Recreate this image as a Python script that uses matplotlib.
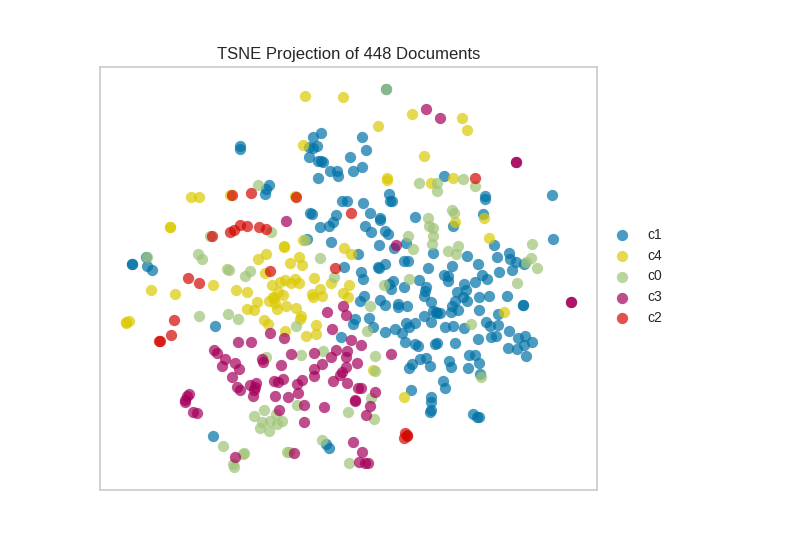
import matplotlib
matplotlib.use("Agg")
import matplotlib.pyplot as plt
import numpy as np

plt.rcParams["font.family"] = ["Liberation Sans", "DejaVu Sans"]

title = "TSNE Projection of 448 Documents"
labels = ["c1", "c4", "c0", "c3", "c2"]
colors = ["#0072A7", "#DBCA04", "#9FC477", "#A5005B", "#D30802"]

# projected positions
c1 = [(240, 146), (240, 149), (313, 137), (321, 133), (309, 147), (317, 146), (313, 148), (309, 157),
      (318, 161), (321, 161), (323, 162), (350, 157), (330, 171), (337, 171), (338, 176), (318, 178),
      (269, 185), (266, 189), (265, 194), (342, 201), (347, 201), (310, 213), (312, 214), (336, 215),
      (333, 222), (329, 226), (320, 227), (307, 239), (331, 242), (146, 257), (132, 264), (132, 264),
      (147, 266), (152, 270), (344, 267), (386, 89), (362, 137), (366, 150), (353, 171), (362, 167),
      (444, 176), (485, 196), (485, 199), (552, 195), (389, 194), (390, 201), (392, 201), (363, 203),
      (370, 213), (380, 218), (380, 220), (415, 217), (483, 214), (453, 226), (365, 226), (371, 232),
      (385, 231), (388, 234), (379, 245), (394, 248), (406, 243), (494, 245), (553, 239), (433, 253),
      (358, 254), (467, 256), (497, 257), (509, 253), (510, 259), (516, 262), (524, 264), (478, 264),
      (404, 261), (408, 261), (385, 264), (378, 267), (379, 268), (361, 272), (428, 268), (452, 266),
      (499, 272), (512, 270), (482, 275), (487, 279), (444, 275), (448, 276), (448, 281), (419, 280),
      (393, 281), (363, 279), (475, 282), (389, 284), (391, 289), (404, 287), (426, 287), (425, 291),
      (424, 296), (464, 284), (457, 292), (466, 290), (463, 297), (467, 301), (479, 297), (489, 296),
      (507, 296), (523, 305), (523, 305), (364, 296), (360, 301), (380, 300), (385, 305), (398, 304),
      (398, 307), (407, 306), (431, 302), (455, 301), (452, 306), (458, 310), (451, 312), (479, 310),
      (498, 314), (369, 318), (355, 319), (353, 324), (373, 327), (433, 311), (436, 312), (437, 313),
      (440, 313), (424, 316), (431, 322), (406, 323), (409, 327), (415, 323), (402, 333), (395, 329),
      (385, 332), (445, 327), (453, 326), (464, 328), (486, 322), (490, 326), (498, 325), (509, 331),
      (491, 337), (496, 336), (478, 339), (518, 338), (525, 336), (532, 342), (524, 345), (508, 348),
      (517, 349), (526, 356), (405, 342), (415, 344), (418, 346), (435, 344), (437, 343), (455, 343),
      (469, 355), (475, 355), (479, 363), (468, 368), (449, 361), (451, 367), (430, 366), (426, 358),
      (420, 359), (412, 364), (409, 368), (480, 374), (443, 381), (445, 388), (411, 390), (431, 397),
      (431, 402), (431, 410), (430, 412), (473, 414), (477, 417), (479, 417), (215, 326), (341, 337),
      (213, 436), (326, 444), (329, 448)]

c4 = [(305, 96), (343, 97), (303, 145), (191, 197), (199, 197), (230, 195), (295, 196), (170, 227),
      (170, 227), (284, 246), (284, 247), (303, 240), (266, 254), (258, 259), (299, 257), (290, 263),
      (302, 265), (344, 248), (265, 273), (412, 114), (462, 118), (467, 130), (378, 126), (424, 156),
      (387, 178), (387, 180), (431, 183), (453, 178), (484, 218), (455, 222), (489, 238), (351, 254),
      (151, 290), (175, 294), (213, 285), (236, 290), (247, 292), (272, 285), (280, 282), (285, 280),
      (291, 283), (295, 279), (299, 283), (314, 278), (331, 283), (312, 294), (313, 297), (320, 289),
      (322, 296), (343, 293), (349, 285), (348, 297), (257, 302), (247, 309), (254, 310), (269, 301),
      (273, 297), (278, 292), (283, 295), (274, 298), (275, 303), (277, 309), (286, 306), (296, 308),
      (301, 316), (300, 319), (264, 320), (268, 324), (285, 331), (316, 325), (316, 334), (306, 336),
      (129, 321), (126, 322), (126, 323), (504, 312), (373, 370), (404, 397)]

c0 = [(386, 89), (258, 185), (210, 236), (271, 232), (198, 254), (202, 259), (147, 257), (227, 269),
      (229, 270), (250, 271), (245, 276), (320, 258), (334, 277), (305, 240), (419, 183), (437, 183),
      (437, 191), (463, 179), (475, 186), (452, 210), (454, 213), (428, 218), (429, 226), (433, 228),
      (433, 236), (432, 244), (408, 236), (413, 249), (448, 251), (458, 246), (456, 254), (532, 244),
      (531, 258), (526, 262), (537, 268), (409, 279), (199, 316), (228, 314), (238, 319), (296, 326),
      (266, 357), (301, 355), (323, 351), (297, 405), (264, 410), (254, 416), (276, 414), (262, 422),
      (270, 421), (282, 421), (277, 424), (260, 428), (269, 431), (322, 440), (223, 446), (244, 453),
      (243, 454), (287, 452), (289, 452), (233, 464), (234, 467), (348, 412), (349, 463), (517, 283),
      (384, 285), (370, 306), (367, 331), (471, 324), (375, 356), (375, 371), (481, 377), (371, 398),
      (374, 419)]

c3 = [(286, 221), (426, 109), (440, 118), (396, 245), (516, 162), (516, 162), (327, 312), (343, 306),
      (346, 315), (332, 329), (270, 333), (284, 338), (238, 342), (251, 342), (351, 340), (214, 350),
      (217, 353), (225, 359), (222, 366), (235, 363), (239, 369), (232, 377), (262, 359), (263, 362),
      (281, 365), (291, 354), (314, 353), (336, 350), (331, 357), (347, 351), (346, 357), (322, 364),
      (314, 369), (314, 376), (346, 367), (342, 372), (340, 375), (333, 381), (347, 383), (237, 387),
      (240, 390), (250, 385), (256, 383), (255, 387), (254, 390), (253, 396), (274, 381), (278, 382),
      (283, 379), (302, 380), (297, 384), (298, 393), (275, 396), (288, 397), (189, 394), (187, 396),
      (185, 400), (185, 402), (193, 412), (197, 413), (304, 405), (279, 410), (304, 422), (324, 407),
      (235, 457), (294, 453), (571, 302), (571, 302), (361, 345), (391, 354), (357, 363), (358, 388),
      (361, 388), (375, 392), (355, 400), (355, 401), (370, 406), (366, 415), (353, 442), (362, 452),
      (359, 462), (365, 463), (368, 463)]

c2 = [(232, 195), (251, 193), (296, 197), (212, 236), (230, 232), (234, 230), (240, 225), (247, 226),
      (259, 227), (266, 229), (188, 278), (199, 283), (270, 271), (335, 268), (351, 213), (475, 178),
      (174, 320), (171, 335), (160, 341), (159, 341), (405, 433), (407, 436), (404, 438), (407, 435)]

groups = [c1, c4, c0, c3, c2]

fig = plt.figure(figsize=(8, 5.5), dpi=100)
ax = fig.add_axes([100 / 800, 1 - 490 / 550, 496.5 / 800, 423 / 550])

for pts, label, color in zip(groups, labels, colors):
    pts = np.array(pts)
    ax.scatter(pts[:, 0], pts[:, 1], s=66, c=color, alpha=0.7, linewidths=0, label=label)

ax.set_xlim(100, 596.5)
ax.set_ylim(490, 67)
ax.set_xticks([])
ax.set_yticks([])
for spine in ax.spines.values():
    spine.set_color("#cccccc")
    spine.set_linewidth(1.25)

ax.set_title(title, fontsize=12, color="#262626", pad=6)
ax.legend(loc="center left", bbox_to_anchor=(1.0, 0.505), frameon=False, fontsize=10, scatterpoints=1,
          labelcolor="#262626", labelspacing=0.49, handletextpad=0.8, borderaxespad=0.47)

fig.savefig("out.png", dpi=100)
